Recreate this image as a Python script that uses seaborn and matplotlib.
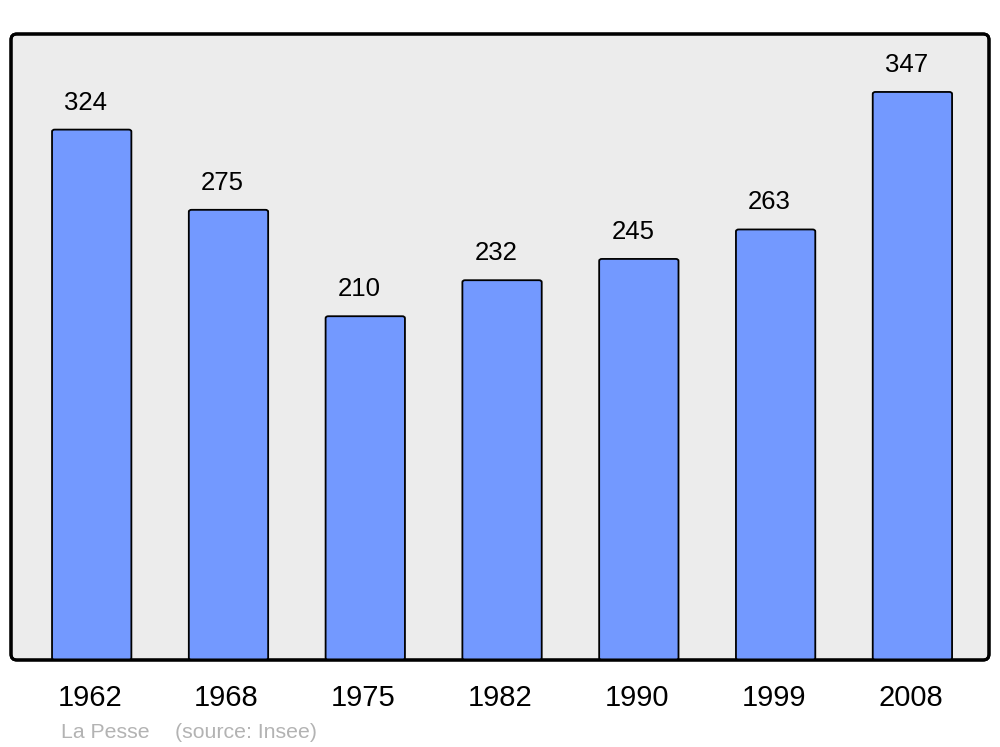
import matplotlib
matplotlib.use("Agg")
import matplotlib.pyplot as plt
import matplotlib.transforms as mtransforms
import seaborn as sns
import pandas as pd
from matplotlib.patches import FancyBboxPatch

years = ["1962", "1968", "1975", "1982", "1990", "1999", "2008"]
population = [324, 275, 210, 232, 245, 263, 347]
title_text = "La Pesse"
source_text = "(source: Insee)"

sns.set_theme(style="white")
plt.rcParams['font.family'] = ['Liberation Sans', 'DejaVu Sans']

df = pd.DataFrame({"year": years, "pop": population})

fig = plt.figure(figsize=(10, 7.47), dpi=100)
ax = fig.add_axes([0.011, 87/747, 0.978, 626/747])
ax.set_facecolor("none")

sns.barplot(data=df, x="year", y="pop", color="#7399ff", width=0.58,
            edgecolor="black", linewidth=1.3, saturation=1, ax=ax, zorder=3)

# replace bars with rounded ones
for p in list(ax.patches):
    x, y = p.get_x(), p.get_y()
    w, h = p.get_width(), p.get_height()
    fb = FancyBboxPatch((x, y), w, h, boxstyle="round,pad=0,rounding_size=0.02",
                        mutation_aspect=60, facecolor="#7399ff", edgecolor="black",
                        linewidth=1.3, zorder=3)
    ax.add_patch(fb)
    p.remove()

ax.set_xlim(-0.59, 6.56)
ax.set_ylim(0, 382.4)

for i, v in enumerate(population):
    ax.annotate(str(v), xy=(i, v), xytext=(-6, 15), textcoords="offset pixels",
                ha="center", va="bottom", fontsize=18.5, color="black")

# rounded axes frame
for s in ax.spines.values():
    s.set_visible(False)
frame = FancyBboxPatch((0, 0), 1, 1, boxstyle="round,pad=0,rounding_size=0.006",
                       transform=ax.transAxes, facecolor="#ececec", edgecolor="black",
                       linewidth=2.2, zorder=0, clip_on=False, mutation_aspect=1.56)
ax.add_patch(frame)
frame2 = FancyBboxPatch((0, 0), 1, 1, boxstyle="round,pad=0,rounding_size=0.006",
                        transform=ax.transAxes, facecolor="none", edgecolor="black",
                        linewidth=2.2, zorder=5, clip_on=False, mutation_aspect=1.56)
ax.add_patch(frame2)

ax.set_yticks([])
ax.set_xlabel("")
ax.set_ylabel("")
ax.tick_params(axis="x", length=0, pad=17, labelsize=21, colors="black")
shift = mtransforms.ScaledTranslation(-2/100, 0, fig.dpi_scale_trans)
for lab in ax.get_xticklabels():
    lab.set_transform(lab.get_transform() + shift)

fig.text(61/1000, 1 - 738/747, title_text, fontsize=15.3, color="#b3b3b3", ha="left", va="baseline")
fig.text(175/1000, 1 - 738/747, source_text, fontsize=15.3, color="#b3b3b3", ha="left", va="baseline")

fig.savefig("out.png", dpi=100, facecolor="white")
